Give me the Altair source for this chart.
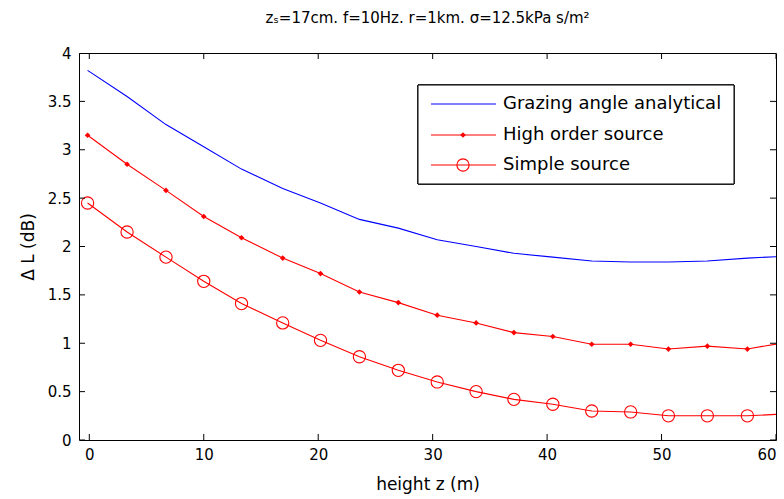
import altair as alt
import pandas as pd

# ---- data ----
heights = [-0.15, 3.3, 6.7, 10.0, 13.3, 16.9, 20.2, 23.6, 27.0, 30.4, 33.8,
           37.1, 40.5, 43.9, 47.3, 50.6, 54.0, 57.5, 60.9]
grazing = [3.82, 3.55, 3.26, 3.03, 2.80, 2.60, 2.45, 2.28, 2.19, 2.07, 2.00,
           1.93, 1.89, 1.85, 1.84, 1.84, 1.85, 1.88, 1.90]
high_order = [3.15, 2.85, 2.58, 2.31, 2.09, 1.88, 1.72, 1.53, 1.42, 1.29, 1.21,
              1.11, 1.07, 0.99, 0.99, 0.94, 0.97, 0.94, 1.01]
simple = [2.45, 2.15, 1.89, 1.64, 1.41, 1.21, 1.03, 0.86, 0.72, 0.60, 0.50,
          0.42, 0.37, 0.30, 0.29, 0.25, 0.25, 0.25, 0.27]
names = ["Grazing angle analytical", "High order source", "Simple source"]
x_ticks = [0, 10, 20, 30, 40, 50, 60]
y_ticks = [0, 0.5, 1, 1.5, 2, 2.5, 3, 3.5, 4]
title_text = "zₛ=17cm. f=10Hz. r=1km. σ=12.5kPa s/m²"

rows = []
for name, vals in zip(names, [grazing, high_order, simple]):
    for h, v in zip(heights, vals):
        rows.append({"series": name, "x": h, "y": v})
df = pd.DataFrame(rows)

W, H = 697, 387
FONT = "DejaVu Sans"
BLUE, RED = "#0000ff", "#ff0000"
X_MIN, X_MAX, Y_MIN, Y_MAX = -0.9, 60, 0, 4

xscale = alt.Scale(domain=[X_MIN, X_MAX], nice=False, zero=False)
yscale = alt.Scale(domain=[Y_MIN, Y_MAX], nice=False, zero=False)
axis_common = dict(domain=False, ticks=False, grid=False, labelFont=FONT,
                   labelFontSize=15, labelColor="black", titleFont=FONT,
                   titleFontSize=17, titleFontWeight="normal", titleColor="black")
xaxis = alt.Axis(values=x_ticks, title="height z (m)", format="d",
                 labelPadding=7, titlePadding=14, **axis_common)
yaxis = alt.Axis(values=y_ticks, title="Δ L (dB)", format="~g", labelPadding=8,
                 titlePadding=10, **axis_common)

X = alt.X("x:Q", scale=xscale, axis=xaxis)
Y = alt.Y("y:Q", scale=yscale, axis=yaxis)

base = alt.Chart(df)
lines = base.mark_line(strokeWidth=1.1, clip=True).encode(
    x=X, y=Y,
    color=alt.Color("series:N", scale=alt.Scale(domain=names, range=[BLUE, RED, RED]),
                    legend=None),
)
pts_high = base.transform_filter(alt.datum.series == names[1]).mark_point(
    shape="diamond", filled=True, size=32, color=RED, opacity=1, clip=True
).encode(x=X, y=Y)
pts_simple = base.transform_filter(alt.datum.series == names[2]).mark_point(
    shape="circle", filled=False, size=150, color=RED, strokeWidth=1.1, opacity=1, clip=True
).encode(x=X, y=Y)

# inward ticks (MATLAB style): ticks centred on the frame, half clipped away
xt = alt.Chart(pd.DataFrame({"x": x_ticks}))
yt = alt.Chart(pd.DataFrame({"y": y_ticks}))
vt = dict(orient="vertical", size=12, thickness=1, color="black", opacity=1, clip=True)
ht = dict(orient="horizontal", size=12, thickness=1, color="black", opacity=1, clip=True)
t_bottom = xt.mark_tick(**vt).encode(x=X, y=alt.datum(Y_MIN))
t_top = xt.mark_tick(**vt).encode(x=X, y=alt.datum(Y_MAX))
t_left = yt.mark_tick(**ht).encode(y=Y, x=alt.datum(X_MIN))
t_right = yt.mark_tick(**ht).encode(y=Y, x=alt.datum(X_MAX))

# legend
LX0, LX1, LY0, LY1 = 339, 655, 32, 131
row_y = [51, 82, 112]
line_x0, line_x1, marker_x, text_x = 352, 417, 384, 424
leg_df = pd.DataFrame({"name": names})
legend_layers = [
    alt.Chart(leg_df).mark_rect(fill="white", stroke="black", strokeWidth=1).encode(
        x=alt.value(LX0), x2=alt.value(LX1), y=alt.value(LY0), y2=alt.value(LY1)
    )
]
colors = [BLUE, RED, RED]
for i, name in enumerate(names):
    d = alt.Chart(pd.DataFrame({"name": [name]}))
    legend_layers.append(
        d.mark_rule(color=colors[i], strokeWidth=1.1).encode(
            x=alt.value(line_x0), x2=alt.value(line_x1), y=alt.value(row_y[i]))
    )
    legend_layers.append(
        d.mark_text(align="left", baseline="middle", font=FONT, fontSize=18,
                    color="black").encode(
            x=alt.value(text_x), y=alt.value(row_y[i]), text="name:N")
    )
legend_layers.append(
    alt.Chart(pd.DataFrame({"name": [names[1]]})).mark_point(
        shape="diamond", filled=True, size=32, color=RED, opacity=1
    ).encode(x=alt.value(marker_x), y=alt.value(row_y[1]))
)
legend_layers.append(
    alt.Chart(pd.DataFrame({"name": [names[2]]})).mark_point(
        shape="circle", filled=False, size=150, color=RED, strokeWidth=1.1, opacity=1
    ).encode(x=alt.value(marker_x), y=alt.value(row_y[2]))
)

chart = alt.layer(
    lines, pts_high, pts_simple, t_bottom, t_top, t_left, t_right, *legend_layers
).properties(
    width=W, height=H, background="white",
    title=alt.TitleParams(title_text, font=FONT, fontSize=15, fontWeight="normal",
                          color="black", anchor="middle", offset=20),
    autosize=alt.AutoSizeParams(type="none"),
    padding={"left": 79, "top": 53, "right": 8, "bottom": 59},
).configure_view(
    stroke="black", strokeWidth=1
)

chart.save("out.html", embed_options={"renderer": "svg", "actions": False})
